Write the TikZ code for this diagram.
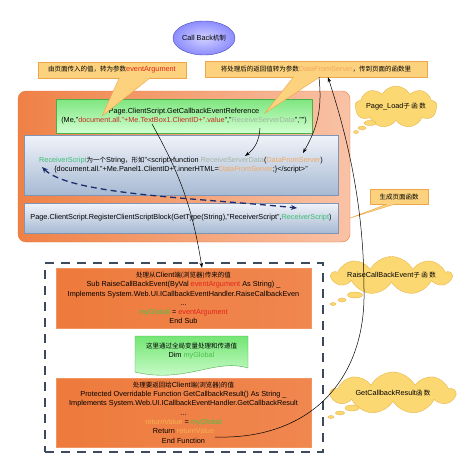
\documentclass[tikz,border=0pt]{standalone}
\usepackage{fontspec}
\setmainfont{Liberation Sans}
\newfontfamily\cjk{Noto Sans CJK SC}
\usepackage{tikz}
\usetikzlibrary{shapes.geometric, shapes.symbols, calc, arrows.meta}
\newcommand{\zh}[1]{{\cjk\fontsize{6.5}{9}\selectfont #1}}
\definecolor{argred}{HTML}{E3241B}
\definecolor{docred}{HTML}{C62A22}
\definecolor{recvgray}{HTML}{A3B5A3}
\definecolor{dataorange}{HTML}{F4A862}
\definecolor{scriptgreen}{HTML}{3CC074}
\definecolor{globalgreen}{HTML}{4CC04C}
\definecolor{retorange}{HTML}{F7B052}
\definecolor{notefill}{HTML}{FCD27E}
\definecolor{noteedge}{HTML}{EDA64A}
\definecolor{cloudfill}{HTML}{FCD873}
\definecolor{cloudedge}{HTML}{E6B64C}
\definecolor{frameedge}{HTML}{EE7A3C}
\definecolor{frameright}{HTML}{F9C2A6}
\definecolor{scripttop}{HTML}{F0F3FA}
\definecolor{scriptbottom}{HTML}{A7BAD3}
\definecolor{scriptedge}{HTML}{7F95B5}
\definecolor{dashnavy}{HTML}{1F2D6E}
\definecolor{serveredge}{HTML}{3B4B5B}

\begin{document}
\begin{tikzpicture}[x=1pt, y=-1pt,
    codefont/.style={font=\fontsize{7.3}{9.3}\selectfont},
    titleball/.style={ellipse, draw=blue!45!gray, inner color=blue!18, outer color=blue!45, minimum width=58, minimum height=34, inner sep=0pt, codefont},
    notebox/.style={draw=noteedge, fill=notefill, inner sep=0pt, minimum height=16, codefont},
    framebox/.style={draw=frameedge, rounded corners=8pt, left color=frameedge!95!white, right color=frameright},
    greenbox/.style={draw=green!55!black!70, top color=green!45!white!90!black, bottom color=green!18!white, inner sep=0pt, align=center, codefont},
    bluebox/.style={draw=scriptedge, top color=scripttop, bottom color=scriptbottom, inner sep=0pt, align=center, codefont},
    serverbox/.style={draw=frameedge!80!white, shading angle=-45, left color=frameedge, middle color=frameedge!25!white, right color=frameedge!90!white, inner sep=0pt, align=center, codefont},
    thought/.style={cloud, cloud puffs=9, cloud puff arc=125, cloud ignores aspect, draw=cloudedge, fill=cloudfill, inner sep=0pt, codefont},
    bubble/.style={draw=cloudedge, fill=cloudfill},
    flow/.style={-{Stealth[length=5pt, width=3.5pt]}, line width=0.5pt},
    swap/.style={{Stealth[length=6pt, width=5pt]}-{Stealth[length=6pt, width=5pt]}, dashnavy, line width=1.3pt, dash pattern=on 6pt off 4pt}]
    \useasboundingbox (0,0) rectangle (474,474);

    % Title
    \node[titleball] (title) at (204,38) {Call Back\zh{机制}};

    % Page_Load part
    \node[framebox, minimum width=332, minimum height=151] (loadframe) at (184,166.5) {};
    \node[greenbox, minimum width=256, minimum height=34] (refbox) at (184,116)
        {Page.ClientScript.GetCallbackEventReference\\
         (Me,"\textcolor{docred}{document.all."+Me.TextBox1.ClientID+".value}","\textcolor{recvgray}{ReceiveServerData}","")};
    \node[bluebox, minimum width=314, minimum height=60] (scriptbox) at (181,165)
        {\textcolor{scriptgreen}{ReceiverScript}\zh{为一个}String\zh{，形如}"\textless script\textgreater function \textcolor{recvgray}{ReceiveServerData}(\textcolor{dataorange}{DataFromServer})\\
         \{document.all."+Me.Panel1.ClientID+".innerHTML=\textcolor{dataorange}{DataFromServer};\}\textless/script\textgreater"};
    \node[bluebox, minimum width=314, minimum height=30] (regbox) at (181,218)
        {Page.ClientScript.RegisterClientScriptBlock(GetType(String),"ReceiverScript",\textcolor{scriptgreen}{ReceiverScript})};

    % Server part
    \node[draw=serveredge, line width=1.5pt, dash pattern=on 9pt off 7pt, minimum width=278, minimum height=189] (serverframe) at (184,357.5) {};
    \node[serverbox, minimum width=255, minimum height=60] (raisebox) at (183.5,298)
        {\zh{处理从}Client\zh{端(浏览器)传来的值}\\
         Sub RaiseCallBackEvent(ByVal \textcolor{argred}{eventArgument} As String) \_\\
         Implements System.Web.UI.ICallbackEventHandler.RaiseCallbackEven\\
         ...\\
         \textcolor{globalgreen}{myGlobal} = \textcolor{argred}{eventArgument}\\
         End Sub};
    \shade[draw=green!55!black!70, top color=green!50!white!90!black, bottom color=green!15!white]
        (135,336) -- (248,336) -- (248,368) .. controls (215,358) and (185,384) .. (135,372) -- cycle;
    \node[align=center, codefont] (globalnote) at (191.5,351)
        {\zh{这里通过全局变量处理和传递值}\\ Dim \textcolor{globalgreen}{myGlobal}};
    \node[serverbox, minimum width=255, minimum height=69] (resultbox) at (183.5,412.5)
        {\zh{处理要返回给}Client\zh{端(浏览器)的值}\\
         Protected Overridable Function GetCallbackResult() As String \_\\
         Implements System.Web.UI.ICallbackEventHandler.GetCallbackResult\\
         ...\\
         \textcolor{retorange}{returnValue} = \textcolor{globalgreen}{myGlobal}\\
         Return \textcolor{retorange}{returnValue}\\
         End Function};

    % Notes with pointers
    \node[notebox, minimum width=148] (argnote) at (112,70) {\zh{由页面传入的值，转为参数}\textcolor{argred}{eventArgument}};
    \filldraw[draw=noteedge, fill=notefill]
        ($(argnote.south west)!0.55!(argnote.south east)+(0,-0.6)$) -- (102,116) -- ($(argnote.south west)!0.76!(argnote.south east)+(0,-0.6)$);
    \node[notebox, minimum width=222] (datanote) at (316,69) {\zh{将处理后的返回值转为参数}\textcolor{dataorange}{DataFromServer}\zh{，传到页面的函数里}};
    \filldraw[draw=noteedge, fill=notefill]
        ($(datanote.south west)!0.40!(datanote.south east)+(0,-0.6)$) -- (265,113) -- ($(datanote.south west)!0.52!(datanote.south east)+(0,-0.6)$);
    \node[notebox, minimum width=58, minimum height=15] (gennote) at (399,197) {\zh{生成页面函数}};
    \coordinate (genpoint) at (loadframe.east |- regbox);
    \filldraw[draw=noteedge, fill=notefill]
        ($(gennote.south)+(-12,-0.6)$) -- (genpoint) -- ($(gennote.south)+(-4,-0.6)$);

    % Thought clouds
    \node[thought, minimum width=82, minimum height=42] (loadcloud) at (396,107) {Page\_Load\zh{子 函 数}};
    \node[thought, minimum width=115, minimum height=38] (raisecloud) at (391.5,275.5) {RaiseCallBackEvent\zh{子 函 数}};
    \node[thought, minimum width=124, minimum height=42] (resultcloud) at (393,393) {GetCallbackResult\zh{函 数}};
    \foreach \bx/\by/\rx/\ry in {370/123/6/2.5, 362/128/4/2, 356/132/2.5/1.5,
                                 355/295/7.5/3, 342/300/4/2, 333/304/3/1.5,
                                 352/408/7/3, 340/413/4.5/2, 331/417/3/1.5}
        \filldraw[bubble] (\bx,\by) ellipse [x radius=\rx, y radius=\ry];

    % Connectors
    \coordinate (clientid) at (152,124);
    \coordinate (recvname) at (260,128);
    \coordinate (recvfunc) at (245,156);
    \coordinate (dataparam) at (303,153);
    \coordinate (scriptname) at (42,167);
    \coordinate (regname) at (297,208);
    \coordinate (retval) at (215,437);
    \draw[flow] (clientid) to[bend left=10] ([xshift=18.5pt]raisebox.north);
    \draw[flow] (recvname) to[bend left=25] (recvfunc);
    \draw[flow] ([xshift=3pt]datanote.south) to[bend left=18] (dataparam);
    \draw[flow] (retval) .. controls (310,440) and (366,380) .. (364,290)
        .. controls (364,200) and (345,130) .. ([xshift=12pt]datanote.south);
    \draw[swap] (scriptname) .. controls (70,195) and (200,198) .. (regname);
\end{tikzpicture}
\end{document}
